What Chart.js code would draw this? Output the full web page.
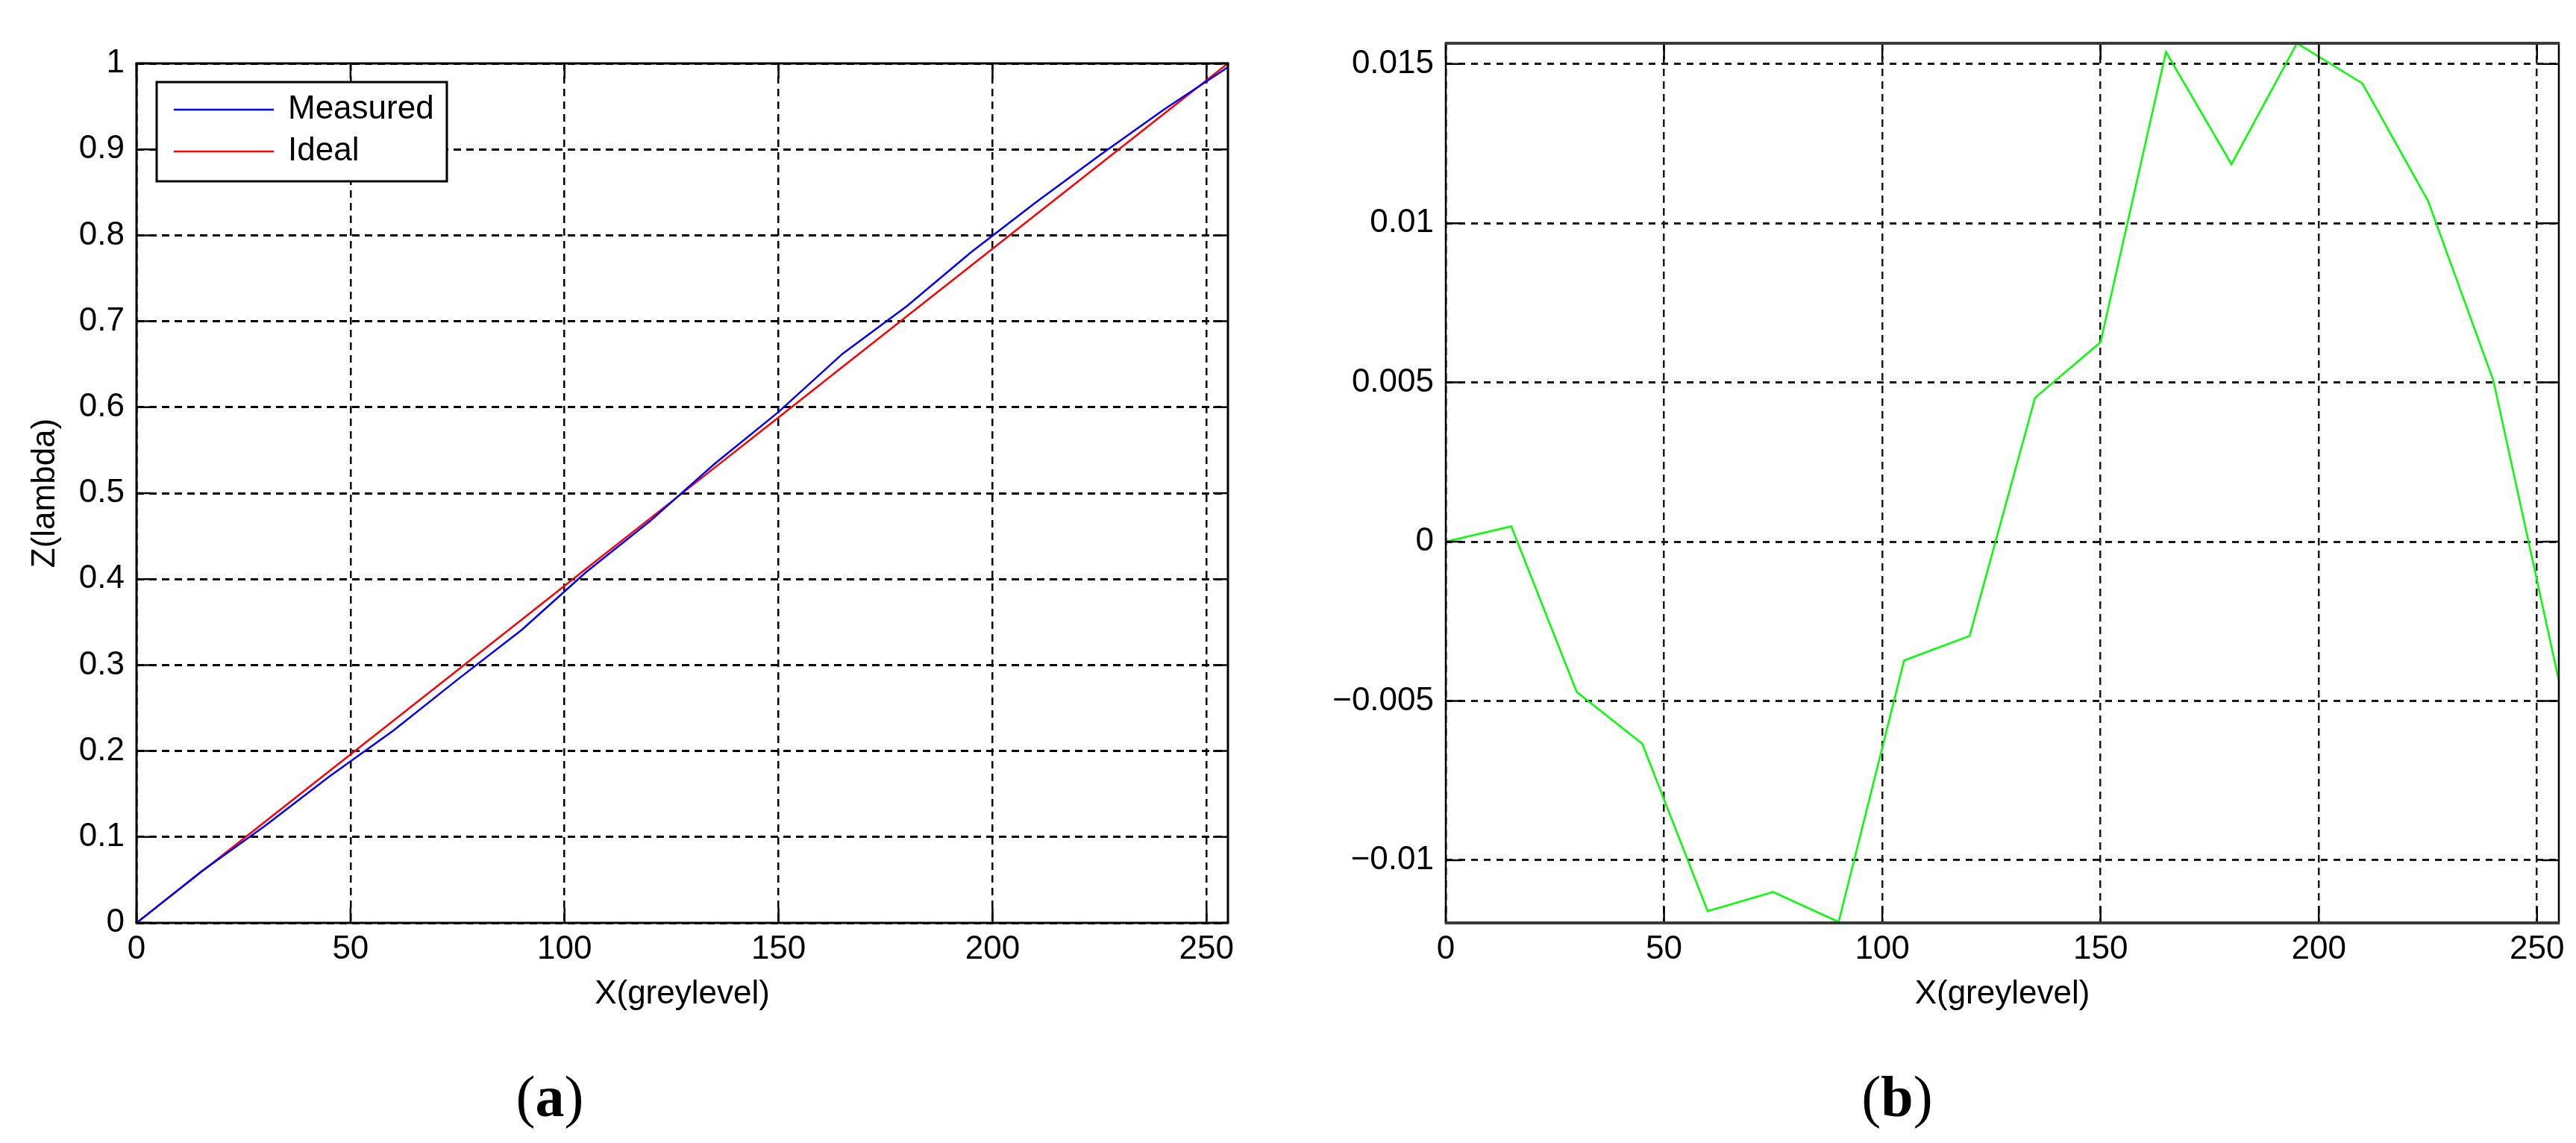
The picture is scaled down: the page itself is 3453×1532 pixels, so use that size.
<!DOCTYPE html>
<html>
<head>
<meta charset="utf-8">
<title>Z(lambda) vs X(greylevel)</title>
<script src="https://cdn.jsdelivr.net/npm/chart.js@4.4.1/dist/chart.umd.min.js"></script>
<style>
    html, body { margin: 0; padding: 0; background: #fff; }
    #page { position: relative; width: 3453px; height: 1532px; overflow: hidden; background: #fff; }
    #page canvas { position: absolute; top: 0; }
    #chartA { left: 0; }
    #chartB { left: 1740px; }
    .caption {
        position: absolute;
        top: 1431px;
        width: 200px;
        text-align: center;
        font-family: 'Liberation Serif', 'Times New Roman', serif;
        font-size: 78px;
        line-height: 78px;
        color: #000;
    }
</style>
</head>
<body>
<div id="page">
    <canvas id="chartA" width="1720" height="1420"></canvas>
    <canvas id="chartB" width="1713" height="1420"></canvas>
    <div class="caption" style="left:637px">(<b>a</b>)</div>
    <div class="caption" style="left:2443px">(<b>b</b>)</div>
</div>
<script>
// grey levels where the curves were sampled
const greyLevels = [0, 15, 30, 45, 60, 75, 90, 105, 120, 135, 150, 165, 180, 195, 210, 225, 240, 255];

// (a) measured and ideal height, in lambda
const measuredZ = [0, 0.0593, 0.1129, 0.1701, 0.2237, 0.2831, 0.3410, 0.4080, 0.4676,
                   0.5339, 0.5945, 0.6624, 0.7177, 0.7804, 0.8379, 0.8931, 0.9462, 0.9956];
const idealZ = [0, 0.0588, 0.1176, 0.1765, 0.2353, 0.2941, 0.3529, 0.4118, 0.4706,
                0.5294, 0.5882, 0.6471, 0.7059, 0.7647, 0.8235, 0.8824, 0.9412, 1];

// (b) measured minus ideal
const diffZ = [0, 0.00048, -0.00472, -0.00634, -0.0116, -0.0110, -0.01194, -0.00373, -0.00296,
               0.00452, 0.00626, 0.01538, 0.01185, 0.01565, 0.01439, 0.01071, 0.00506, -0.00436];

const seriesNames = ['Measured', 'Ideal'];

const xTicks = [0, 50, 100, 150, 200, 250];
const xTickLabels = ['0', '50', '100', '150', '200', '250'];
const zTicks = [0, 0.1, 0.2, 0.3, 0.4, 0.5, 0.6, 0.7, 0.8, 0.9, 1];
const zTickLabels = ['0', '0.1', '0.2', '0.3', '0.4', '0.5', '0.6', '0.7', '0.8', '0.9', '1'];
const diffTicks = [-0.01, -0.005, 0, 0.005, 0.01, 0.015];
const diffTickLabels = ['\u22120.01', '\u22120.005', '0', '0.005', '0.01', '0.015'];

Chart.defaults.font.family = "'Liberation Sans', Arial, sans-serif";
Chart.defaults.font.size = 44;
Chart.defaults.color = '#000';

function toPoints(xs, ys) {
    return xs.map((x, i) => ({x: x, y: ys[i]}));
}

// fixed axis box sizes so the plot areas land where the figure has them
function fixSize(prop, size) {
    return function(scale) {
        scale[prop] = size;
        scale.paddingLeft = 0;
        scale.paddingRight = 0;
        scale.paddingTop = 0;
        scale.paddingBottom = 0;
    };
}

function useTicks(values) {
    return function(scale) {
        scale.ticks = values.map(v => ({value: v}));
    };
}

/**
 * MATLAB style frame: box round the plot area plus inward tick marks
 */
const matlabFrame = {
    id: 'matlabFrame',
    afterDatasetsDraw(chart, args, opts) {
        const {ctx, chartArea: a, scales} = chart;
        const len = opts.tickLength;
        ctx.save();
        ctx.setLineDash([]);
        ctx.strokeStyle = '#000';
        ctx.lineWidth = opts.tickWidth;
        ctx.beginPath();
        scales.x.ticks.forEach(t => {
            const px = scales.x.getPixelForValue(t.value);
            ctx.moveTo(px, a.bottom);
            ctx.lineTo(px, a.bottom - len);
            ctx.moveTo(px, a.top);
            ctx.lineTo(px, a.top + len);
        });
        scales.y.ticks.forEach(t => {
            const py = scales.y.getPixelForValue(t.value);
            ctx.moveTo(a.left, py);
            ctx.lineTo(a.left + len, py);
            ctx.moveTo(a.right, py);
            ctx.lineTo(a.right - len, py);
        });
        ctx.stroke();

        // left and right sides
        ctx.strokeStyle = opts.sideColor;
        ctx.lineWidth = opts.sideWidth;
        ctx.beginPath();
        ctx.moveTo(a.left, a.top);
        ctx.lineTo(a.left, a.bottom);
        ctx.moveTo(a.right, a.top);
        ctx.lineTo(a.right, a.bottom);
        ctx.stroke();

        // top and bottom edges
        ctx.strokeStyle = opts.edgeColor;
        ctx.lineWidth = opts.edgeWidth;
        ctx.beginPath();
        ctx.moveTo(a.left - opts.sideWidth / 2, a.top);
        ctx.lineTo(a.right + opts.sideWidth / 2, a.top);
        ctx.moveTo(a.left - opts.sideWidth / 2, a.bottom);
        ctx.lineTo(a.right + opts.sideWidth / 2, a.bottom);
        ctx.stroke();
        ctx.restore();
    }
};

/**
 * Boxed legend inside the plot area (upper left corner)
 */
const boxLegend = {
    id: 'boxLegend',
    afterDraw(chart, args, opts) {
        if (!opts.display) return;
        const {ctx, chartArea: a} = chart;
        const x0 = a.left + opts.offsetX;
        const y0 = a.top + opts.offsetY;
        ctx.save();
        ctx.setLineDash([]);
        ctx.fillStyle = '#fff';
        ctx.fillRect(x0, y0, opts.width, opts.height);
        ctx.strokeStyle = '#000';
        ctx.lineWidth = 3;
        ctx.strokeRect(x0, y0, opts.width, opts.height);

        ctx.font = "44px 'Liberation Sans', Arial, sans-serif";
        ctx.textAlign = 'left';
        ctx.textBaseline = 'middle';
        chart.data.datasets.forEach((ds, i) => {
            const y = y0 + opts.firstRow + i * opts.rowGap;
            ctx.strokeStyle = ds.borderColor;
            ctx.lineWidth = ds.borderWidth;
            ctx.beginPath();
            ctx.moveTo(x0 + opts.lineStart, y);
            ctx.lineTo(x0 + opts.lineEnd, y);
            ctx.stroke();
            ctx.fillStyle = '#000';
            ctx.fillText(ds.label, x0 + opts.textStart, y);
        });
        ctx.restore();
    }
};

function xAxis(gridColor) {
    return {
        type: 'linear',
        min: 0,
        max: 255,
        afterBuildTicks: useTicks(xTicks),
        afterFit: fixSize('height', 183),
        ticks: {
            padding: 9,
            color: '#000',
            callback: (value, index) => xTickLabels[index]
        },
        grid: {color: gridColor, lineWidth: 2.5, drawTicks: false},
        border: {display: false, dash: [10, 7]},
        title: {
            display: true,
            text: 'X(greylevel)',
            color: '#000',
            font: {size: 44},
            padding: {top: 0, bottom: 61}
        }
    };
}

// (a) Z(lambda) against grey level
new Chart(document.getElementById('chartA'), {
    type: 'line',
    data: {
        datasets: [{
            label: seriesNames[0],
            data: toPoints(greyLevels, measuredZ),
            borderColor: '#0000ff',
            borderWidth: 2.5,
            pointRadius: 0,
            tension: 0
        }, {
            label: seriesNames[1],
            data: toPoints(greyLevels, idealZ),
            borderColor: '#ff0000',
            borderWidth: 2.5,
            pointRadius: 0,
            tension: 0
        }]
    },
    options: {
        responsive: false,
        animation: false,
        layout: {padding: {top: 85, right: 74, bottom: 0, left: 0}},
        scales: {
            x: xAxis('#000'),
            y: {
                type: 'linear',
                min: 0,
                max: 1,
                afterBuildTicks: useTicks(zTicks),
                afterFit: fixSize('width', 183),
                ticks: {
                    padding: 16,
                    color: '#000',
                    callback: (value, index) => zTickLabels[index]
                },
                grid: {color: '#000', lineWidth: 3, drawTicks: false},
                border: {display: false, dash: [10, 7]},
                title: {
                    display: true,
                    text: 'Z(lambda)',
                    color: '#000',
                    font: {size: 44},
                    padding: {top: 34, bottom: 0}
                }
            }
        },
        plugins: {
            legend: {display: false},
            tooltip: {enabled: false},
            matlabFrame: {
                tickLength: 20, tickWidth: 2.5,
                sideColor: '#000', sideWidth: 3,
                edgeColor: '#000', edgeWidth: 3
            },
            boxLegend: {
                display: true,
                offsetX: 27, offsetY: 25, width: 389, height: 133,
                lineStart: 23, lineEnd: 157, textStart: 176,
                firstRow: 37, rowGap: 56
            }
        }
    },
    plugins: [matlabFrame, boxLegend]
});

// (b) measured minus ideal
new Chart(document.getElementById('chartB'), {
    type: 'line',
    data: {
        datasets: [{
            label: 'Measured - Ideal',
            data: toPoints(greyLevels, diffZ),
            borderColor: '#00ff00',
            borderWidth: 2.5,
            pointRadius: 0,
            tension: 0
        }]
    },
    options: {
        responsive: false,
        animation: false,
        layout: {padding: {top: 58, right: 23, bottom: 0, left: 0}},
        scales: {
            x: xAxis('#1a1a1a'),
            y: {
                type: 'linear',
                min: -0.01197,
                max: 0.01565,
                afterBuildTicks: useTicks(diffTicks),
                afterFit: fixSize('width', 198),
                ticks: {
                    padding: 16,
                    color: '#000',
                    callback: (value, index) => diffTickLabels[index]
                },
                grid: {color: '#1a1a1a', lineWidth: 3, drawTicks: false},
                border: {display: false, dash: [9, 8]}
            }
        },
        plugins: {
            legend: {display: false},
            tooltip: {enabled: false},
            matlabFrame: {
                tickLength: 22, tickWidth: 2.5,
                sideColor: '#000', sideWidth: 2.5,
                edgeColor: '#3a3a3a', edgeWidth: 4
            },
            boxLegend: {display: false}
        }
    },
    plugins: [matlabFrame, boxLegend]
});
</script>
</body>
</html>
